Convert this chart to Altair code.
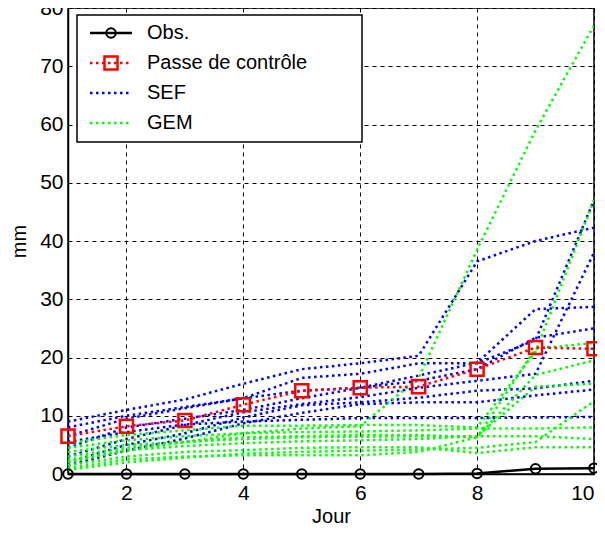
import altair as alt
import pandas as pd

days = [1, 2, 3, 4, 5, 6, 7, 8, 9, 10]
obs = [0.0, 0.0, 0.0, 0.0, 0.0, 0.0, 0.0, 0.1, 0.9, 1.0]
control = [6.5, 8.2, 9.2, 11.9, 14.3, 14.8, 15.0, 18.0, 21.7, 21.5]

sef = [
    [9.0, 11.0, 12.8, 15.5, 18.0, 19.0, 20.3, 36.5, 40.0, 42.3],
    [8.0, 10.0, 11.5, 13.0, 16.5, 17.2, 19.0, 19.0, 23.0, 47.0],
    [6.5, 9.5, 11.3, 13.0, 14.3, 14.8, 16.9, 19.1, 28.3, 28.7],
    [4.5, 8.0, 9.5, 11.0, 13.0, 14.8, 16.0, 18.0, 23.4, 25.0],
    [3.0, 6.0, 8.4, 10.6, 12.0, 13.2, 14.8, 16.0, 17.2, 38.0],
    [2.0, 5.0, 7.0, 9.7, 11.8, 12.3, 13.1, 14.3, 14.7, 16.0],
    [1.5, 4.0, 6.1, 8.7, 10.5, 12.0, 12.3, 12.3, 13.5, 14.5],
    [5.5, 7.2, 8.5, 9.0, 9.3, 9.6, 9.6, 9.6, 9.7, 9.8],
]

gem = [
    [2.0, 4.0, 5.5, 7.0, 7.8, 8.2, 16.5, 38.5, 59.0, 77.0],
    [5.3, 6.7, 7.5, 8.3, 8.3, 8.4, 8.4, 8.0, 21.0, 47.0],
    [3.8, 5.0, 5.5, 6.3, 6.5, 6.7, 6.7, 6.3, 21.5, 22.5],
    [1.0, 2.5, 3.0, 3.2, 3.2, 3.2, 3.8, 6.3, 17.0, 19.5],
    [2.4, 4.1, 4.8, 5.3, 5.6, 5.8, 6.0, 6.5, 15.0, 15.5],
    [0.7, 2.0, 2.8, 3.5, 3.8, 4.0, 4.2, 4.5, 5.5, 12.5],
    [3.0, 4.5, 5.5, 6.0, 6.3, 6.4, 6.5, 6.5, 6.5, 6.0],
    [1.5, 3.0, 3.8, 4.1, 4.5, 4.6, 4.6, 3.6, 4.6, 4.6],
    [4.5, 5.8, 6.5, 7.0, 7.2, 7.3, 7.5, 7.8, 7.8, 8.0],
]

legend_labels = ["Obs.", "Passe de contrôle", "SEF", "GEM"]

FONT = "Liberation Sans"

rows = []
for name, members in (("SEF", sef), ("GEM", gem)):
    for i, m in enumerate(members):
        for d, v in zip(days, m):
            rows.append({"day": d, "val": v, "member": f"{name}{i}", "model": name})
ens = pd.DataFrame(rows)
ctrl_df = pd.DataFrame({"day": days, "val": control})
obs_df = pd.DataFrame({"day": days, "val": obs})

xscale = alt.Scale(domain=[1, 10], nice=False, zero=False)
yscale = alt.Scale(domain=[0, 80], nice=False)

xaxis = alt.Axis(values=[2, 4, 6, 8, 10], format="d", title="Jour", grid=True, gridDash=[4, 4],
                 gridColor="black", gridOpacity=1, gridWidth=1, tickSize=0,
                 labelFontSize=21, labelFont=FONT, labelColor="black", labelPadding=8,
                 titleFontSize=20, titleFont=FONT, titleFontWeight="normal",
                 titleColor="black", titlePadding=3, domainColor="black", domainWidth=1.5)
yaxis = alt.Axis(values=list(range(0, 81, 10)), format="d", title="mm", grid=True, gridDash=[4, 4],
                 gridColor="black", gridOpacity=1, gridWidth=1, tickSize=0,
                 labelFontSize=21, labelFont=FONT, labelColor="black", labelPadding=5,
                 titleFontSize=20, titleFont=FONT, titleFontWeight="normal",
                 titleColor="black", titlePadding=10, domainColor="black", domainWidth=1.5)

X = alt.X("day:Q", scale=xscale, axis=xaxis)
Y = alt.Y("val:Q", scale=yscale, axis=yaxis)

ens_lines = alt.Chart(ens).mark_line(strokeWidth=2.5, strokeDash=[2.5, 3.5], clip=True).encode(
    x=X, y=Y, detail="member:N",
    color=alt.Color("model:N", scale=alt.Scale(domain=["SEF", "GEM"], range=["#0000ff", "#00ff00"]), legend=None),
)

ctrl_line = alt.Chart(ctrl_df).mark_line(color="red", strokeWidth=2.5, strokeDash=[2.5, 3.5]).encode(x=X, y=Y)
ctrl_pts = alt.Chart(ctrl_df).mark_point(shape="square", color="red", size=170, strokeWidth=2.5,
                                         filled=False, opacity=1).encode(x=X, y=Y)

obs_line = alt.Chart(obs_df).mark_line(color="black", strokeWidth=2.5).encode(x=X, y=Y)
obs_pts = alt.Chart(obs_df).mark_point(shape="circle", color="black", size=90, strokeWidth=2,
                                       filled=False, opacity=1).encode(x=X, y=Y)

# Legend (MATLAB-style box)
one = pd.DataFrame({"a": [0]})
LX0, LX1, LY0, LY1 = 9, 294, 7, 134
ROW0, ROWH = 25, 30

leg_parts = [alt.Chart(one).mark_rect(fill="white", stroke="black", strokeWidth=1.5).encode(
    x=alt.value(LX0), x2=alt.value(LX1), y=alt.value(LY0), y2=alt.value(LY1))]

styles = [
    ("black", None, 2.5),
    ("red", [2.5, 3.5], 2.5),
    ("#0000ff", [2.5, 3.5], 2.5),
    ("#00ff00", [2.5, 3.5], 2.5),
]
for i, ((col, dash, w), lab) in enumerate(zip(styles, legend_labels)):
    kw = dict(color=col, strokeWidth=w)
    if dash:
        kw["strokeDash"] = dash
    leg_parts.append(alt.Chart(one).mark_rule(**kw).encode(
        x=alt.value(22), x2=alt.value(64), y=alt.value(ROW0 + i * ROWH)))
    leg_parts.append(alt.Chart(one).mark_text(
        align="left", baseline="middle", fontSize=20, font=FONT, color="black", text=lab).encode(
        x=alt.value(79), y=alt.value(ROW0 + i * ROWH)))
leg_parts.append(alt.Chart(one).mark_point(
    shape="circle", color="black", size=90, strokeWidth=2, filled=False, opacity=1).encode(
    x=alt.value(43), y=alt.value(ROW0)))
leg_parts.append(alt.Chart(one).mark_point(
    shape="square", color="red", size=170, strokeWidth=2.5, filled=False, opacity=1).encode(
    x=alt.value(43), y=alt.value(ROW0 + ROWH)))

chart = alt.layer(
    ens_lines, ctrl_line, ctrl_pts, obs_line, obs_pts, *leg_parts
).properties(
    width=526, height=466,
    autosize=alt.AutoSizeParams(type="none"),
    padding={"left": 60, "top": 0, "right": 3, "bottom": 54},
    background="white",
).configure_view(stroke="black", strokeWidth=1.5)

chart.save("out.html", embed_options={"renderer": "svg", "actions": False})
